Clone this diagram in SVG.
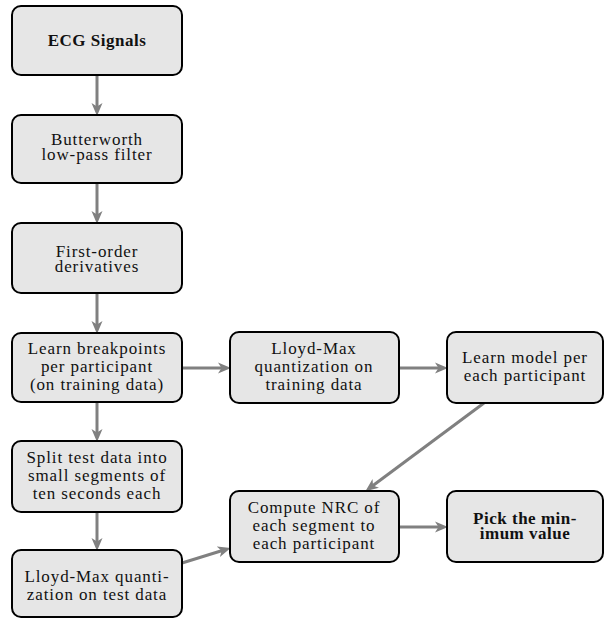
<svg xmlns="http://www.w3.org/2000/svg" width="608" height="619" viewBox="0 0 608 619">
<style>
.box{fill:#e6e6e6;stroke:#000;stroke-width:2}
.c{stroke:#808080;stroke-width:3;fill:none}
</style>
<defs>
<marker id="ah" markerUnits="userSpaceOnUse" markerWidth="14" markerHeight="12" viewBox="0 0 14 12" refX="6" refY="6" orient="auto">
<path d="M0,0.5 L13,6 L0,11.5 L3.5,6 z" fill="#808080"/>
</marker>
</defs>
<rect width="608" height="619" fill="#fff"/>
<g id="connectors">
<line class="c" x1="97" y1="75" x2="97" y2="109" marker-end="url(#ah)"/>
<line class="c" x1="97" y1="183" x2="97" y2="217" marker-end="url(#ah)"/>
<line class="c" x1="97" y1="293" x2="97" y2="327" marker-end="url(#ah)"/>
<line class="c" x1="97" y1="402" x2="97" y2="435" marker-end="url(#ah)"/>
<line class="c" x1="97" y1="512" x2="97" y2="544" marker-end="url(#ah)"/>
<line class="c" x1="182" y1="368" x2="224" y2="368" marker-end="url(#ah)"/>
<line class="c" x1="399" y1="368" x2="441" y2="368" marker-end="url(#ah)"/>
<line class="c" x1="484" y1="403" x2="371" y2="487" marker-end="url(#ah)"/>
<line class="c" x1="182" y1="563" x2="224" y2="550" marker-end="url(#ah)"/>
<line class="c" x1="399" y1="527" x2="441" y2="527" marker-end="url(#ah)"/>
</g>
<g font-family="Liberation Serif" font-size="17" letter-spacing="0.9" fill="#111" text-anchor="middle">
<g id="ecg">
<rect class="box" x="12" y="6" width="170" height="69" rx="9"/>
<text x="97" y="46" font-weight="bold" letter-spacing="0.5">ECG Signals</text>
</g>
<g id="butterworth">
<rect class="box" x="12" y="115" width="170" height="68" rx="9"/>
<text x="97" y="145">Butterworth</text>
<text x="97" y="160">low-pass filter</text>
</g>
<g id="derivatives">
<rect class="box" x="12" y="223" width="170" height="70" rx="9"/>
<text x="97" y="257">First-order</text>
<text x="97" y="272">derivatives</text>
</g>
<g id="breakpoints">
<rect class="box" x="12" y="333" width="170" height="69" rx="9"/>
<text x="97" y="354">Learn breakpoints</text>
<text x="97" y="372">per participant</text>
<text x="97" y="390">(on training data)</text>
</g>
<g id="split">
<rect class="box" x="12" y="441" width="170" height="71" rx="9"/>
<text x="97" y="463">Split test data into</text>
<text x="97" y="481">small segments of</text>
<text x="97" y="499">ten seconds each</text>
</g>
<g id="lloydtest">
<rect class="box" x="12" y="550" width="170" height="67" rx="9"/>
<text x="97" y="582">Lloyd-Max quanti-</text>
<text x="97" y="600">zation on test data</text>
</g>
<g id="lloydtrain">
<rect class="box" x="230" y="332" width="169" height="71" rx="9"/>
<text x="314" y="354">Lloyd-Max</text>
<text x="314" y="372">quantization on</text>
<text x="314" y="390">training data</text>
</g>
<g id="model">
<rect class="box" x="447" y="332" width="156" height="71" rx="9"/>
<text x="525" y="363">Learn model per</text>
<text x="525" y="381">each participant</text>
</g>
<g id="nrc">
<rect class="box" x="230" y="491" width="169" height="71" rx="9"/>
<text x="314" y="513">Compute NRC of</text>
<text x="314" y="531">each segment to</text>
<text x="314" y="549">each participant</text>
</g>
<g id="pick">
<rect class="box" x="447" y="491" width="156" height="71" rx="9"/>
<text x="525" y="524" font-weight="bold" letter-spacing="0.5">Pick the min-</text>
<text x="525" y="539" font-weight="bold" letter-spacing="0.5">imum value</text>
</g>
</g>
</svg>
